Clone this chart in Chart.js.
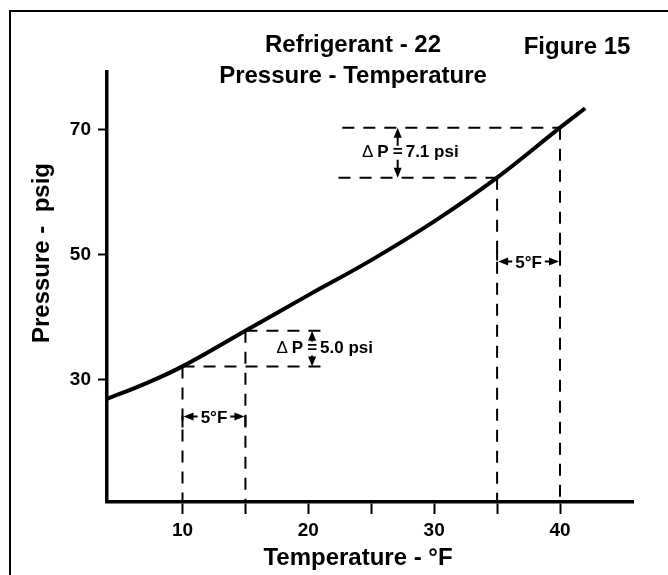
<!DOCTYPE html>
<html>
<head>
<meta charset="utf-8">
<script src="https://cdn.jsdelivr.net/npm/chart.js@4.4.1/dist/chart.umd.min.js"></script>
<style>
  html, body { margin: 0; padding: 0; background: #fff; }
  canvas { display: block; }
</style>
</head>
<body>
<canvas id="c" width="668" height="575"></canvas>
<script>
// ---- data ----
const temps     = [4, 7, 10, 15, 20, 25, 30, 35, 40, 42];
const pressures = [26.9, 29.3, 32.1, 37.8, 43.5, 49.1, 55.3, 62.3, 70.3, 73.4];
const xTicks  = [10, 15, 20, 25, 30, 35, 40];
const xLabels = [10, 20, 30, 40];
const yTicks  = [30, 50, 70];
const xRange = [4, 45.8];
const yRange = [10.4, 79.2];

// guide pairs (temperature / pressure on the curve)
const lowT  = [10, 15];   const lowP  = [32.1, 37.8];
const highT = [35, 40];   const highP = [62.3, 70.3];
const lowLineEnd    = [21.1, 21.4];   // where the left pair's horizontal guides stop (°F)
const highLineStart = [22.4, 22.7];   // where the right pair's horizontal guides start (°F)
const deltaPAt      = [20.3, 27.1];   // °F at which the ΔP arrows sit
const deltaPLabels  = ['5.0 psi', '7.1 psi'];
const deltaTAt      = [24.1, 48.9];   // psig at which the 5°F arrows sit
const deltaTLabel   = '5°F';

const titleLines = ['Refrigerant - 22', 'Pressure - Temperature'];
const figureLabel = 'Figure 15';
const xTitle = 'Temperature - °F';
const yTitle = 'Pressure -  psig';

const FONT = "'Liberation Sans', Arial, Helvetica, sans-serif";

function seg(x1, y1, x2, y2) {
  return { data: [{x: x1, y: y1}, {x: x2, y: y2}], borderColor: '#000', borderWidth: 2,
           borderDash: [12, 9], pointRadius: 0, fill: false, tension: 0 };
}
const guides = [
  seg(lowT[0], lowP[0], lowLineEnd[0], lowP[0]),
  seg(lowT[1], lowP[1], lowLineEnd[1], lowP[1]),
  seg(lowT[0], lowP[0], lowT[0], yRange[0]),
  seg(lowT[1], lowP[1], lowT[1], yRange[0]),
  seg(highLineStart[0], highP[0], highT[0], highP[0]),
  seg(highLineStart[1], highP[1], highT[1], highP[1]),
  seg(highT[0], highP[0], highT[0], yRange[0]),
  seg(highT[1], highP[1], highT[1], yRange[0])
];

function arrowHead(ctx, x, y, dx, dy) {
  const len = 10, hw = 4;
  const px = -dy, py = dx;
  ctx.beginPath();
  ctx.moveTo(x, y);
  ctx.lineTo(x - dx * len + px * hw, y - dy * len + py * hw);
  ctx.lineTo(x - dx * len - px * hw, y - dy * len - py * hw);
  ctx.closePath();
  ctx.fill();
}

const decor = {
  id: 'decor',
  afterDatasetsDraw(chart) {
    const ctx = chart.ctx, xs = chart.scales.x, ys = chart.scales.y;
    ctx.save();
    ctx.fillStyle = '#000'; ctx.strokeStyle = '#000';
    // frame
    ctx.lineWidth = 2;
    ctx.beginPath(); ctx.moveTo(10, 575); ctx.lineTo(10, 11); ctx.lineTo(668, 11); ctx.stroke();
    // titles
    ctx.textAlign = 'center'; ctx.textBaseline = 'middle';
    ctx.font = 'bold 24px ' + FONT;
    ctx.fillText(titleLines[0], 353, 45);
    ctx.fillText(titleLines[1], 353, 76);
    ctx.fillText(figureLabel, 577, 47);
    ctx.fillText(xTitle, 358, 558);
    ctx.save(); ctx.translate(42, 253); ctx.rotate(-Math.PI / 2);
    ctx.fillText(yTitle, 0, 0); ctx.restore();

    // ΔP arrows
    const pairsP = [lowP, highP];
    pairsP.forEach((pp, i) => {
      const x = xs.getPixelForValue(deltaPAt[i]);
      const yB = ys.getPixelForValue(pp[0]);
      const yT = ys.getPixelForValue(pp[1]);
      const yc = (yT + yB) / 2;
      ctx.lineWidth = 2;
      ctx.beginPath();
      ctx.moveTo(x, yT + 8); ctx.lineTo(x, yc - 7);
      ctx.moveTo(x, yc + 7); ctx.lineTo(x, yB - 8);
      ctx.stroke();
      arrowHead(ctx, x, yT, 0, -1);
      arrowHead(ctx, x, yB, 0, 1);
      ctx.font = 'bold 17px ' + FONT;
      ctx.textAlign = 'center'; ctx.fillText('=', x, yc);
      ctx.textAlign = 'left'; ctx.fillText(deltaPLabels[i], x + 8, yc);
      ctx.textAlign = 'right'; ctx.fillText('P', x - 9, yc);
      const pw = ctx.measureText('P').width;
      ctx.font = '17px ' + FONT;
      ctx.fillText('\u0394', x - 9 - pw - 4, yc);
    });

    // 5°F arrows
    ctx.font = 'bold 17px ' + FONT;
    const pairsT = [lowT, highT];
    const stopDir = [1, -1];
    pairsT.forEach((tt, i) => {
      const x1 = xs.getPixelForValue(tt[0]);
      const x2 = xs.getPixelForValue(tt[1]);
      const y = ys.getPixelForValue(deltaTAt[i]);
      const xc = (x1 + x2) / 2;
      ctx.textAlign = 'center';
      ctx.fillText(deltaTLabel, xc, y + 2);
      const w = ctx.measureText(deltaTLabel).width;
      ctx.lineWidth = 2;
      ctx.beginPath();
      ctx.moveTo(x1 + 8, y); ctx.lineTo(xc - w / 2 - 3, y);
      ctx.moveTo(xc + w / 2 + 3, y); ctx.lineTo(x2 - 8, y);
      ctx.moveTo(x1, y - 1); ctx.lineTo(x1, y + 11 * stopDir[i]);
      ctx.moveTo(x2, y - 1); ctx.lineTo(x2, y + 11 * stopDir[i]);
      ctx.stroke();
      arrowHead(ctx, x1 + 1, y, -1, 0);
      arrowHead(ctx, x2 - 1, y, 1, 0);
    });
    ctx.restore();
  }
};

new Chart(document.getElementById('c'), {
  type: 'line',
  data: {
    datasets: [
      { data: temps.map((t, i) => ({x: t, y: pressures[i]})), borderColor: '#000', borderWidth: 4,
        pointRadius: 0, fill: false, tension: 0.4 },
      ...guides
    ]
  },
  options: {
    responsive: false,
    animation: false,
    devicePixelRatio: 1,
    layout: { padding: { left: 0, top: 72, right: 35, bottom: 0 } },
    plugins: { legend: { display: false }, tooltip: { enabled: false }, title: { display: false } },
    scales: {
      x: {
        type: 'linear', min: xRange[0], max: xRange[1],
        afterBuildTicks: s => { s.ticks = xTicks.map(v => ({value: v})); },
        afterFit: s => { s.height = 73; },
        ticks: { autoSkip: false, maxRotation: 0, padding: 5, color: '#000',
                 font: { family: FONT, size: 19, weight: 'bold' },
                 callback: v => xLabels.includes(v) ? String(v) : '' },
        grid: { drawOnChartArea: false, drawTicks: true, tickLength: 12, tickWidth: 2, tickColor: '#000' },
        border: { display: true, color: '#000', width: 3.5 }
      },
      y: {
        type: 'linear', min: yRange[0], max: yRange[1],
        afterBuildTicks: s => { s.ticks = yTicks.map(v => ({value: v})); },
        afterFit: s => { s.width = 107; },
        ticks: { autoSkip: false, padding: 7, color: '#000',
                 font: { family: FONT, size: 19, weight: 'bold' } },
        grid: { drawOnChartArea: false, drawTicks: true, tickLength: 9, tickWidth: 2, tickColor: '#000' },
        border: { display: true, color: '#000', width: 3.5 }
      }
    }
  },
  plugins: [decor]
});
</script>
</body>
</html>
